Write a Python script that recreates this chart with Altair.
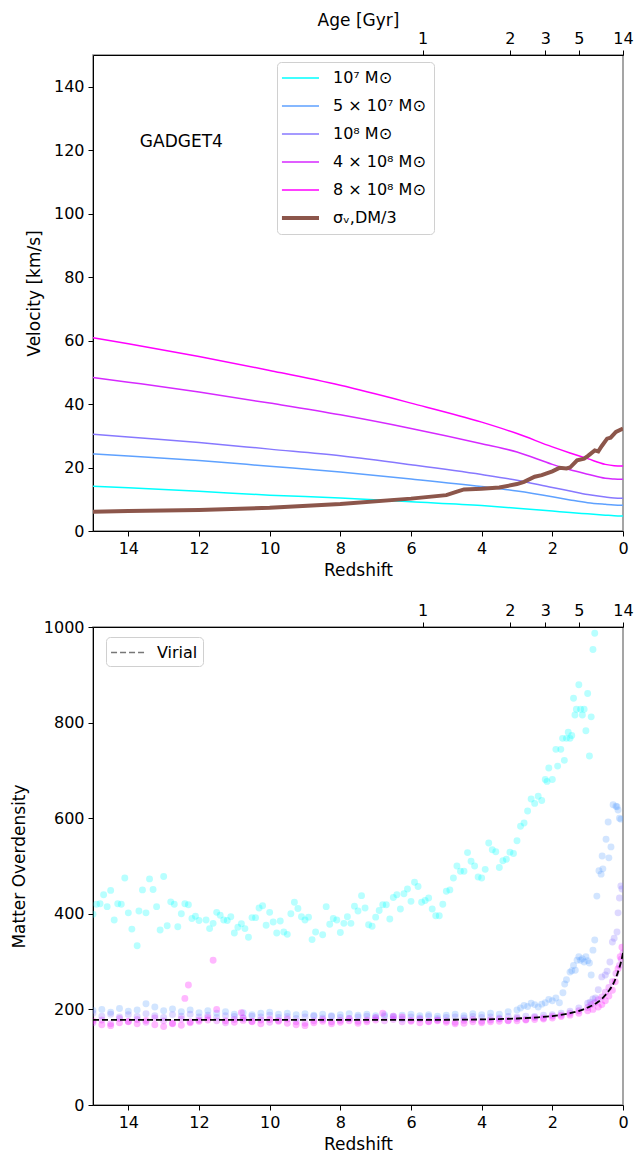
import altair as alt
import pandas as pd

# ---------------- top panel: velocities ----------------
z_line = [15, 14, 12, 10, 8, 6, 4, 3, 2, 1.5, 1, 0.5, 0.25, 0]
v_1e7 = [14.1, 13.6, 12.5, 11.3, 10.4, 9.2, 8.0, 7.2, 6.3, 5.8, 5.4, 5.0, 4.8, 4.7]
v_5e7 = [24.3, 23.6, 22.2, 20.4, 18.6, 16.4, 14.0, 12.6, 10.8, 9.8, 8.9, 8.4, 8.2, 8.1]
v_1e8 = [30.5, 29.6, 27.9, 25.8, 23.7, 20.9, 17.8, 16.0, 13.7, 12.6, 11.5, 10.7, 10.4, 10.3]
v_4e8 = [48.4, 46.9, 43.8, 40.3, 36.6, 32.3, 27.5, 24.9, 21.0, 19.3, 17.9, 16.6, 16.4, 16.3]
v_8e8 = [60.9, 59.0, 55.0, 50.6, 45.9, 40.3, 34.3, 30.7, 26.5, 24.6, 22.8, 21.0, 20.6, 20.5]

sigma_z = [15, 14, 12, 10, 8, 6, 5, 4.7, 4.5, 4.0, 3.5, 3.0, 2.8, 2.5, 2.3, 2.0, 1.8,
           1.6, 1.5, 1.3, 1.1, 1.0, 0.8, 0.7, 0.6, 0.45, 0.35, 0.2, 0.0]
sigma_v = [6.1, 6.3, 6.6, 7.3, 8.5, 10.2, 11.3, 12.4, 13.1, 13.3, 13.7, 14.8, 15.5,
           17.1, 17.6, 18.8, 19.9, 19.7, 20.0, 22.3, 22.8, 23.6, 25.4, 25.1, 26.8,
           29.1, 29.4, 31.2, 32.3]

series_names = ["10⁷ M⊙", "5 × 10⁷ M⊙", "10⁸ M⊙", "4 × 10⁸ M⊙", "8 × 10⁸ M⊙", "σᵥ,DM/3"]
series_colors = ["#00ffff", "#5ea1ff", "#8778ff", "#d629ff", "#ff00ff", "#8c564b"]
mass_line_width = 1.5
sigma_line_width = 4.0

# top axis (age) ticks
age_tick_z = [5.67, 3.2, 2.2, 1.25, 0.0]
age_tick_labels = ["1", "2", "3", "5", "14"]

redshift_ticks = [14, 12, 10, 8, 6, 4, 2, 0]
vel_ticks = [0, 20, 40, 60, 80, 100, 120, 140]
od_ticks = [0, 200, 400, 600, 800, 1000]

label_text = ["GADGET4"]
label_z = [12.5]
label_v = [122.5]

# ---------------- bottom panel: overdensity ----------------
cyan_z = [15, 14.9, 14.8, 14.7, 14.6, 14.5, 14.4, 14.3, 14.2, 14.1, 14.0, 13.9, 13.75, 13.7,
          13.6, 13.5, 13.4, 13.3, 13.2, 13.1, 13.0, 12.9, 12.8, 12.7, 12.6, 12.5, 12.4,
          12.3, 12.2, 12.1, 12.0, 11.8, 11.7, 11.6, 11.5, 11.4, 11.3, 11.2, 11.1, 11.0,
          10.9, 10.8, 10.7, 10.6, 10.5, 10.4, 10.3, 10.2, 10.1, 10.0, 9.9, 9.8, 9.7, 9.6,
          9.5, 9.4, 9.3, 9.2, 9.1, 9.0, 8.9, 8.8, 8.7, 8.5, 8.4, 8.3, 8.2, 8.1, 8.0, 7.9,
          7.8, 7.7, 7.6, 7.5, 7.4, 7.3, 7.2, 7.1, 7.0, 6.9, 6.8, 6.7, 6.6, 6.5, 6.4, 6.3,
          6.2, 6.1, 6.0, 5.9, 5.8, 5.7, 5.6, 5.5, 5.4, 5.3, 5.2, 5.1, 5.0, 4.9, 4.8, 4.7,
          4.6, 4.5, 4.4, 4.3, 4.2, 4.1, 4.0, 3.9, 3.8, 3.7, 3.6, 3.5, 3.4, 3.3, 3.2, 3.1,
          3.0, 2.9, 2.8, 2.7, 2.6, 2.5, 2.4, 2.3, 2.2, 2.15, 2.1, 2.0, 1.9, 1.85, 1.76,
          1.71, 1.66, 1.6, 1.55, 1.5, 1.45, 1.4, 1.36, 1.32, 1.25, 1.2, 1.15, 1.1, 1.05,
          1.0, 0.95, 0.9, 0.85, 0.8]
cyan_v = [399, 420, 421, 440, 415, 449, 387, 421, 420, 475, 402, 368, 333, 406,
          450, 402, 473, 451, 415, 366, 478, 375, 425, 420, 373, 400, 421,
          419, 390, 395, 386, 387, 369, 380, 403, 397, 387, 386, 394, 360,
          372, 379, 369, 351, 392, 392, 412, 417, 376, 403, 383, 360, 385, 362,
          357, 400, 424, 411, 394, 387, 393, 346, 362, 356, 415, 378, 390, 387, 361, 380,
          394, 380, 416, 406, 438, 412, 377, 374, 393, 407, 419, 419, 389, 434, 440, 410,
          442, 452, 426, 466, 457, 424, 428, 433, 410, 396, 396, 420, 447, 450, 475, 500,
          489, 489, 528, 510, 500, 477, 475, 493, 548, 534, 530, 497, 511, 514, 529, 526,
          553, 583, 590, 615, 640, 631, 646, 637, 681, 677, 705, 681, 744, 709, 744,
          767, 721, 767, 780, 767, 773, 851, 816, 828, 879, 828, 816, 828, 783,
          861, 730, 812, 953, 987]

blue_z = [15, 14.75, 14.5, 14.25, 14, 13.75, 13.5, 13.25, 13, 12.75, 12.5, 12.25, 12,
          11.75, 11.5, 11.25, 11, 10.75, 10.5, 10.25, 10, 9.75, 9.5, 9.25, 9, 8.75,
          8.5, 8.25, 8, 7.75, 7.5, 7.25, 7, 6.75, 6.5, 6.25, 6, 5.75, 5.5, 5.25, 5,
          4.75, 4.5, 4.25, 4, 3.75, 3.5, 3.25, 3.0, 2.9, 2.8, 2.7, 2.6, 2.5, 2.4, 2.3,
          2.2, 2.1, 2.0, 1.9, 1.8, 1.7, 1.65, 1.6, 1.5, 1.45, 1.4, 1.35, 1.3, 1.25,
          1.2, 1.15, 1.1, 1.05, 1.0, 0.95, 0.9, 0.85, 0.8, 0.74, 0.68, 0.62, 0.59,
          0.57, 0.48, 0.42, 0.4, 0.34, 0.28, 0.2, 0.17, 0.14, 0.1, 0.06]
blue_v = [198, 200, 194, 202, 196, 199, 212, 205, 197, 201, 195, 199, 193,
          197, 192, 195, 190, 193, 189, 192, 194, 190, 192, 189, 191, 188,
          190, 187, 189, 191, 188, 190, 187, 189, 186, 188, 190, 187, 189, 186, 188,
          190, 187, 191, 189, 192, 190, 195, 199, 203, 208, 206, 213, 210, 205, 211,
          214, 221, 218, 224, 214, 235, 253, 262, 278, 281, 292, 282, 303, 310,
          303, 306, 299, 310, 302, 297, 272, 324, 345, 437, 490, 483, 521,
          494, 556, 592, 517, 540, 628, 625, 624, 617, 600, 598]

purple_z = [15, 14.75, 14.5, 14.25, 14, 13.75, 13.5, 13.25, 13, 12.75, 12.5, 12.25, 12,
            11.75, 11.5, 11.25, 11, 10.75, 10.5, 10.25, 10, 9.75, 9.5, 9.25, 9, 8.75,
            8.5, 8.25, 8, 7.75, 7.5, 7.25, 7, 6.75, 6.5, 6.25, 6, 5.75, 5.5, 5.25, 5,
            4.75, 4.5, 4.25, 4, 3.75, 3.5, 3.25, 3, 2.75, 2.5, 2.25, 2, 1.75, 1.5,
            1.25, 1.0, 0.93, 0.85, 0.78, 0.7, 0.6, 0.5, 0.45, 0.37, 0.3, 0.25, 0.17,
            0.14, 0.1, 0.06, 0.03]
purple_v = [192, 186, 190, 184, 189, 185, 191, 187, 183, 189, 186, 190, 184,
            188, 183, 187, 185, 182, 186, 184, 188, 183, 185, 181, 184, 186,
            182, 185, 183, 181, 184, 186, 182, 185, 183, 180, 184, 182, 185, 181, 183,
            184, 182, 185, 183, 184, 182, 185, 184, 186, 185, 188, 189, 192, 196,
            203, 213, 215, 222, 224, 241, 268, 272, 280, 299, 341, 349, 362,
            402, 433, 458, 452]

violet_z = [15, 14.75, 14.5, 14.25, 14, 13.75, 13.5, 13.25, 13, 12.75, 12.5, 12.25, 12,
            11.75, 11.5, 11.25, 11, 10.75, 10.5, 10.25, 10, 9.75, 9.5, 9.25, 9, 8.75,
            8.5, 8.25, 8, 7.75, 7.5, 7.25, 7, 6.75, 6.5, 6.25, 6, 5.75, 5.5, 5.25, 5,
            4.75, 4.5, 4.25, 4, 3.75, 3.5, 3.25, 3, 2.75, 2.5, 2.25, 2, 1.75, 1.5,
            1.25, 1.0, 0.9, 0.8, 0.7, 0.6, 0.5, 0.4, 0.3, 0.2, 0.1, 0.05, 0.0]
violet_v = [172, 178, 170, 181, 175, 179, 173, 182, 176, 171, 180, 174, 178,
            183, 176, 172, 179, 182, 175, 178, 173, 177, 180, 174, 171, 176,
            179, 174, 177, 181, 175, 178, 183, 176, 179, 174, 177, 180, 175, 178, 176,
            173, 177, 179, 175, 178, 180, 176, 181, 179, 183, 182, 186, 188, 192,
            197, 204, 210, 214, 220, 226, 236, 246, 258, 275, 292, 305, 318]

magenta_z = [15, 14.75, 14.5, 14.25, 14, 13.75, 13.5, 13.25, 13, 12.75, 12.5, 12.4,
             12.3, 12.25, 12, 11.75, 11.6, 11.5, 11.25, 11, 10.8, 10.75, 10.5, 10.25,
             10, 9.75, 9.5, 9.25, 9, 8.75, 8.5, 8.25, 8, 7.75, 7.5, 7.25, 7, 6.8, 6.5,
             6.25, 6, 5.75, 5.5, 5.25, 5, 4.75, 4.5, 4.25, 4, 3.75, 3.5, 3.25, 3, 2.75,
             2.5, 2.25, 2, 1.75, 1.5, 1.25, 1.0, 0.85, 0.7, 0.6, 0.5, 0.4, 0.3, 0.22,
             0.14, 0.08, 0.03]
magenta_v = [176, 168, 166, 172, 174, 170, 177, 168, 164, 170, 167, 223,
             251, 172, 175, 178, 303, 200, 176, 173, 193, 177, 174, 170,
             179, 175, 171, 168, 166, 172, 175, 170, 173, 176, 171, 174, 178, 192, 186,
             184, 175, 172, 174, 176, 173, 170, 171, 174, 172, 174, 175, 177, 176, 178,
             179, 180, 182, 185, 188, 192, 197, 200, 205, 210, 218, 228, 240, 258,
             285, 310, 330]

vir_z = [15, 10, 6, 4, 3, 2.5, 2, 1.5, 1.2, 1.0, 0.8, 0.7, 0.6, 0.5, 0.4, 0.3, 0.2,
         0.1, 0.05, 0]
vir_v = [178, 178, 178, 179, 181, 183, 186, 192, 198, 204, 211, 216, 222, 230, 239,
         250, 266, 288, 301, 318]
vir_label = "Virial"

# ---------------- build tables ----------------
line_vals = [v_1e7, v_5e7, v_1e8, v_4e8, v_8e8]
rows = []
for name, vals in zip(series_names[:5], line_vals):
    for z, v in zip(z_line, vals):
        rows.append({"z": z, "v": v, "series": name})
mass_df = pd.DataFrame(rows)
sigma_df = pd.DataFrame({"z": sigma_z, "v": sigma_v, "series": [series_names[5]] * len(sigma_z)})

scat_rows = []
for name, zs, vs in [(series_names[0], cyan_z, cyan_v),
                     (series_names[1], blue_z, blue_v),
                     (series_names[2], purple_z, purple_v),
                     (series_names[3], violet_z, violet_v),
                     (series_names[4], magenta_z, magenta_v)]:
    for z, v in zip(zs, vs):
        scat_rows.append({"z": z, "od": v, "series": name, "order": len(scat_rows)})
scat_df = pd.DataFrame(scat_rows)

vir_df = pd.DataFrame({"z": vir_z, "od": vir_v, "lbl": [vir_label] * len(vir_z)})
age_df = pd.DataFrame({"z": age_tick_z})
text_df = pd.DataFrame({"z": label_z, "v": label_v, "t": label_text})

label_expr = " : ".join(
    f"abs(datum.value - {z}) < 0.01 ? '{l}'" for z, l in zip(age_tick_z, age_tick_labels)
) + " : ''"
legend_width_expr = f"datum.value == '{series_names[5]}' ? {sigma_line_width} : {mass_line_width}"

FONT = "DejaVu Sans"
W = 530
H1 = 476
H2 = 478
GAP = 96  # distance from bottom of top plot to top of bottom plot (for legend placement)

xscale = alt.Scale(domain=[0, 15], reverse=True, nice=False, zero=False)
vscale = alt.Scale(domain=[0, 150], nice=False)
oscale = alt.Scale(domain=[0, 1000], nice=False)
cscale = alt.Scale(domain=series_names, range=series_colors)


def bottom_axis():
    return alt.Axis(values=redshift_ticks, title="Redshift", format="d", labelFlush=False,
                    orient="bottom", titlePadding=6)


def top_axis(title):
    return alt.Axis(title=title, orient="top", values=age_tick_z, labelExpr=label_expr,
                    labelFlush=False, titlePadding=1)


color_legend = alt.Legend(
    title=None, orient="none", legendX=184, legendY=7,
    symbolType="M-0.85,0H2.0", symbolSize=676,
    symbolStrokeWidth=alt.ExprRef(legend_width_expr),
    labelFontSize=16, labelFont=FONT, rowPadding=12, labelOffset=32, padding=8,
    fillColor="white", strokeColor="#d0d0d0", cornerRadius=4, labelLimit=300,
)

# ---- top panel ----
mass_lines = alt.Chart(mass_df).mark_line(interpolate="monotone", clip=True,
                                          strokeWidth=mass_line_width).encode(
    x=alt.X("z:Q", scale=xscale, axis=bottom_axis()),
    y=alt.Y("v:Q", scale=vscale,
            axis=alt.Axis(values=vel_ticks, title="Velocity [km/s]", format="d",
                          titlePadding=10)),
    color=alt.Color("series:N", scale=cscale, legend=color_legend),
    order=alt.Order("z:Q", sort="descending"),
)

sigma_line = alt.Chart(sigma_df).mark_line(clip=True, strokeWidth=sigma_line_width).encode(
    x=alt.X("z:Q", scale=xscale, axis=None),
    y=alt.Y("v:Q", scale=vscale),
    color=alt.Color("series:N", scale=cscale, legend=color_legend),
    order=alt.Order("z:Q", sort="descending"),
)

gadget = alt.Chart(text_df).mark_text(fontSize=17, font=FONT, color="black").encode(
    x=alt.X("z:Q", scale=xscale, axis=None),
    y=alt.Y("v:Q", scale=vscale),
    text="t:N",
)

age_top = alt.Chart(age_df).mark_point(opacity=0).encode(
    x=alt.X("z:Q", scale=xscale, axis=top_axis("Age [Gyr]")),
)

top = alt.layer(mass_lines, sigma_line, gadget, age_top).resolve_axis(
    x="independent").properties(width=W, height=H1)

# ---- bottom panel ----
scat = alt.Chart(scat_df).mark_circle(size=48, opacity=0.28, clip=True).encode(
    x=alt.X("z:Q", scale=xscale, axis=bottom_axis()),
    y=alt.Y("od:Q", scale=oscale,
            axis=alt.Axis(values=od_ticks, title="Matter Overdensity", format="d",
                          titlePadding=15)),
    color=alt.Color("series:N", scale=alt.Scale(domain=series_names[:5],
                                                range=series_colors[:5]), legend=None),
    order=alt.Order("order:Q"),
)

vir = alt.Chart(vir_df).mark_line(color="black", strokeWidth=1.8, interpolate="monotone",
                                  clip=True).encode(
    x=alt.X("z:Q", scale=xscale, axis=None),
    y=alt.Y("od:Q", scale=oscale),
    strokeDash=alt.StrokeDash(
        "lbl:N", scale=alt.Scale(domain=[vir_label], range=[[6, 3]]),
        legend=alt.Legend(title=None, orient="none", legendX=13, legendY=H1 + GAP + 10,
                          symbolType="M-1.1,0H2.47", symbolSize=361,
                          symbolStrokeColor="#777777", symbolStrokeWidth=1.5,
                          labelFontSize=16, labelFont=FONT, labelOffset=25, padding=5,
                          fillColor="white", strokeColor="#d0d0d0", cornerRadius=4)),
)

age_top2 = alt.Chart(age_df).mark_point(opacity=0).encode(
    x=alt.X("z:Q", scale=xscale, axis=top_axis("")),
)

bottom = alt.layer(scat, vir, age_top2).resolve_axis(x="independent").resolve_scale(
    color="independent").properties(width=W, height=H2)

chart = alt.vconcat(top, bottom, spacing=22).resolve_scale(color="independent").properties(
    padding={"left": 9, "top": 10, "right": 0, "bottom": 0}
).configure_view(
    stroke="#888888", strokeWidth=1.5
).configure_axis(
    labelFont=FONT, titleFont=FONT, labelFontSize=16, titleFontSize=17,
    labelColor="black", titleColor="black", domainColor="black", tickColor="black",
    titleFontWeight="normal", grid=False, tickSize=5, labelPadding=4, titlePadding=8,
    domainWidth=1, tickWidth=1
).configure_legend(
    labelColor="black"
)

chart.save("out.html", embed_options={"renderer": "svg", "actions": False})
